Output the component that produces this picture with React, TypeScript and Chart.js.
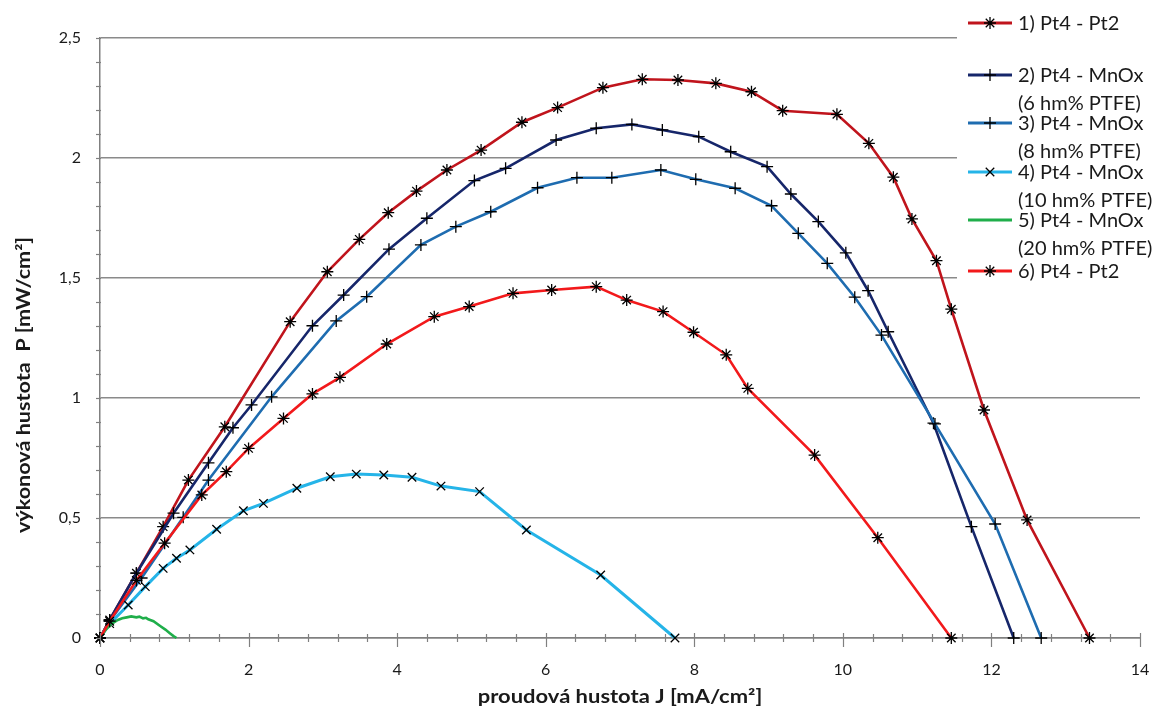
import React, { useEffect, useRef } from 'react';
import { Chart, registerables } from 'chart.js';

Chart.register(...registerables);

// 1) Pt4 - Pt2 (dark red)
const s1J = [0, 0.13, 0.49, 0.85, 1.19, 1.68, 2.56, 3.06, 3.49, 3.88, 4.26, 4.67, 5.13, 5.68, 6.16, 6.77, 7.3, 7.78, 8.29, 8.77, 9.19, 9.92, 10.35, 10.68, 10.93, 11.26, 11.46, 11.9, 12.48, 13.32];
const s1P = [0, 0.075, 0.27, 0.464, 0.658, 0.88, 1.318, 1.526, 1.661, 1.772, 1.862, 1.95, 2.033, 2.149, 2.21, 2.293, 2.328, 2.325, 2.311, 2.276, 2.197, 2.182, 2.061, 1.92, 1.746, 1.572, 1.37, 0.95, 0.492, 0];

// 2) Pt4 - MnOx (6 hm% PTFE) (navy)
const s2J = [0, 0.13, 0.49, 0.99, 1.46, 1.79, 2.04, 2.86, 3.28, 3.89, 4.4, 5.04, 5.46, 6.14, 6.68, 7.16, 7.57, 8.06, 8.49, 8.98, 9.3, 9.67, 10.04, 10.34, 10.61, 11.22, 11.73, 12.3];
const s2P = [0, 0.075, 0.27, 0.52, 0.73, 0.876, 0.971, 1.301, 1.429, 1.62, 1.749, 1.906, 1.957, 2.075, 2.124, 2.14, 2.117, 2.089, 2.026, 1.964, 1.85, 1.735, 1.605, 1.447, 1.276, 0.895, 0.464, 0];

// 3) Pt4 - MnOx (8 hm% PTFE) (mid blue)
const s3J = [0, 0.13, 0.56, 1.12, 1.46, 2.31, 3.18, 3.59, 4.32, 4.79, 5.26, 5.89, 6.42, 6.89, 7.55, 8.02, 8.55, 9.04, 9.4, 9.79, 10.16, 10.52, 11.24, 12.05, 12.67];
const s3P = [0, 0.07, 0.25, 0.503, 0.658, 1.005, 1.321, 1.422, 1.638, 1.714, 1.776, 1.876, 1.918, 1.918, 1.95, 1.911, 1.874, 1.801, 1.686, 1.561, 1.42, 1.262, 0.892, 0.475, 0];

// 4) Pt4 - MnOx (10 hm% PTFE) (light blue)
const s4J = [0, 0.13, 0.38, 0.61, 0.85, 1.03, 1.21, 1.57, 1.93, 2.2, 2.65, 3.1, 3.45, 3.82, 4.2, 4.59, 5.11, 5.74, 6.74, 7.74];
const s4P = [0, 0.06, 0.1375, 0.214, 0.29, 0.332, 0.367, 0.453, 0.53, 0.561, 0.624, 0.672, 0.683, 0.679, 0.67, 0.633, 0.61, 0.45, 0.2625, 0];

// 5) Pt4 - MnOx (20 hm% PTFE) (green, no markers)
const s5J = [0, 0.08, 0.16, 0.24, 0.3, 0.36, 0.42, 0.49, 0.53, 0.58, 0.62, 0.65, 0.72, 0.81, 0.88, 0.94, 0.99, 1.03];
const s5P = [0, 0.035, 0.06, 0.075, 0.082, 0.086, 0.09, 0.086, 0.089, 0.082, 0.084, 0.078, 0.07, 0.05, 0.035, 0.02, 0.008, 0];

// 6) Pt4 - Pt2 (bright red)
const s6J = [0, 0.13, 0.49, 0.87, 1.37, 1.7, 2.0, 2.47, 2.86, 3.23, 3.86, 4.5, 4.97, 5.56, 6.08, 6.68, 7.09, 7.58, 7.99, 8.43, 8.72, 9.62, 10.47, 11.46];
const s6P = [0, 0.07, 0.24, 0.395, 0.596, 0.693, 0.79, 0.915, 1.017, 1.086, 1.225, 1.339, 1.381, 1.436, 1.45, 1.464, 1.408, 1.36, 1.274, 1.18, 1.04, 0.762, 0.418, 0];

const seriesLabels = [
  ['1) Pt4 - Pt2'],
  ['2) Pt4 - MnOx', '(6 hm% PTFE)'],
  ['3) Pt4 - MnOx', '(8 hm% PTFE)'],
  ['4) Pt4 - MnOx', '(10 hm% PTFE)'],
  ['5) Pt4 - MnOx', '(20 hm% PTFE)'],
  ['6) Pt4 - Pt2'],
];
const seriesColors = ['#c0141c', '#16266a', '#1e6cb0', '#25b4e8', '#1fae4a', '#f2191b'];
const seriesMarkers = ['star', 'cross', 'cross', 'crossRot', 'none', 'star'];
const seriesJ = [s1J, s2J, s3J, s4J, s5J, s6J];
const seriesP = [s1P, s2P, s3P, s4P, s5P, s6P];

const xTitle = 'proudová hustota J [mA/cm²]';
const yTitle = 'výkonová hustota  P [mW/cm²]';
const xMin = 0, xMax = 14, xStep = 2, xMinor = 0.4;
const yMin = 0, yMax = 2.5, yStep = 0.5, yMinor = 0.1;

const FONT = 'Lato, "Liberation Sans", sans-serif';

function drawMarker(ctx: CanvasRenderingContext2D, style: string, x: number, y: number, r: number) {
  ctx.beginPath();
  if (style === 'cross' || style === 'star') {
    ctx.moveTo(x - r, y); ctx.lineTo(x + r, y);
    ctx.moveTo(x, y - r); ctx.lineTo(x, y + r);
  }
  if (style === 'crossRot' || style === 'star') {
    const d = r * Math.SQRT1_2;
    ctx.moveTo(x - d, y - d); ctx.lineTo(x + d, y + d);
    ctx.moveTo(x - d, y + d); ctx.lineTo(x + d, y - d);
  }
  ctx.stroke();
}

function stretchedText(ctx: CanvasRenderingContext2D, text: string, x: number, y: number, sx: number) {
  ctx.save();
  ctx.translate(x, y);
  ctx.scale(sx, 1);
  ctx.fillText(text, 0, 0);
  ctx.restore();
}

const decorPlugin = {
  id: 'decor',
  afterDraw(chart: any) {
    const ctx: CanvasRenderingContext2D = chart.ctx;
    const xs = chart.scales.x;
    const ys = chart.scales.y;
    const area = chart.chartArea;
    ctx.save();
    // minor / major ticks on x axis
    ctx.strokeStyle = '#808080';
    ctx.lineWidth = 1.2;
    const nx = Math.round((xMax - xMin) / xMinor);
    for (let i = 0; i <= nx; i++) {
      const v = xMin + i * xMinor;
      const px = Math.round(xs.getPixelForValue(v)) + 0.5;
      const major = i % 5 === 0;
      ctx.beginPath();
      ctx.moveTo(px, area.bottom - (major ? 5 : 4));
      ctx.lineTo(px, area.bottom + (major ? 9 : 4));
      ctx.stroke();
    }
    // minor ticks on y axis
    const ny = Math.round((yMax - yMin) / yMinor);
    for (let i = 0; i <= ny; i++) {
      const v = yMin + i * yMinor;
      const py = Math.round(ys.getPixelForValue(v)) + 0.5;
      ctx.beginPath();
      ctx.moveTo(area.left - 4, py);
      ctx.lineTo(area.left + 1, py);
      ctx.stroke();
    }

    // axis titles
    ctx.fillStyle = '#1a1a1a';
    ctx.font = `bold 18px ${FONT}`;
    ctx.textAlign = 'center';
    ctx.textBaseline = 'middle';
    stretchedText(ctx, xTitle, (area.left + area.right) / 2, 697, 1.22);
    ctx.save();
    ctx.translate(24, 385);
    ctx.rotate(-Math.PI / 2);
    stretchedText(ctx, yTitle, 0, 0, 1.2);
    ctx.restore();

    // legend box
    ctx.fillStyle = '#ffffff';
    ctx.fillRect(957, 0, 200, 292);
    const rowY = [23, 75, 123, 172, 220, 271];
    const lx0 = 968, lx1 = 1012, tx = 1018;
    ctx.font = `20px ${FONT}`;
    ctx.textAlign = 'left';
    for (let i = 0; i < seriesLabels.length; i++) {
      const y = rowY[i];
      ctx.strokeStyle = seriesColors[i];
      ctx.lineWidth = 3;
      ctx.beginPath();
      ctx.moveTo(lx0, y);
      ctx.lineTo(lx1, y);
      ctx.stroke();
      if (seriesMarkers[i] !== 'none') {
        ctx.strokeStyle = '#000';
        ctx.lineWidth = 1.3;
        drawMarker(ctx, seriesMarkers[i], (lx0 + lx1) / 2, y, 6);
      }
      ctx.fillStyle = '#1a1a1a';
      ctx.fillText(seriesLabels[i][0], tx, y + 1);
      if (seriesLabels[i][1]) ctx.fillText(seriesLabels[i][1], tx, y + 29);
    }
    ctx.restore();
  },
};

export default function App() {
  const ref = useRef<HTMLCanvasElement | null>(null);
  useEffect(() => {
    if (!ref.current) return;
    const datasets = seriesJ.map((J, i) => ({
      label: seriesLabels[i].join(' '),
      data: J.map((x, k) => ({ x, y: seriesP[i][k] })),
      borderColor: seriesColors[i],
      backgroundColor: seriesColors[i],
      borderWidth: i === 3 ? 3 : 2.6,
      pointStyle: seriesMarkers[i] === 'none' ? false : seriesMarkers[i],
      pointRadius: seriesMarkers[i] === 'none' ? 0 : 6,
      pointBorderColor: '#000',
      pointBorderWidth: 1.3,
      pointBackgroundColor: '#000',
      tension: 0,
      clip: false as any,
      order: 6 - i,
    }));
    const chart = new Chart(ref.current, {
      type: 'line',
      data: { datasets },
      options: {
        animation: false,
        responsive: false,
        layout: { padding: { left: 0, right: 17, top: 38, bottom: 0 } },
        plugins: { legend: { display: false }, tooltip: { enabled: false } },
        scales: {
          x: {
            type: 'linear',
            min: xMin,
            max: xMax,
            afterFit: (s: any) => { s.height = 79; },
            ticks: {
              stepSize: xStep,
              padding: 0,
              color: '#1a1a1a',
              font: { family: FONT, size: 16 },
              maxRotation: 0,
            },
            grid: { display: true, drawOnChartArea: false, drawTicks: true, tickLength: 22, tickColor: 'rgba(0,0,0,0)' },
            border: { display: true, color: '#808080', width: 1.5 },
          },
          y: {
            type: 'linear',
            min: yMin,
            max: yMax,
            afterFit: (s: any) => { s.width = 100; },
            ticks: {
              stepSize: yStep,
              padding: 19,
              color: '#1a1a1a',
              font: { family: FONT, size: 16 },
              callback: (v: any) => String(v).replace('.', ','),
            },
            grid: { color: '#8a8a8a', lineWidth: 1.5, drawTicks: false },
            border: { display: true, color: '#808080', width: 1.5 },
          },
        },
      },
      plugins: [decorPlugin],
    });
    return () => chart.destroy();
  }, []);
  return (
    <div style={{ position: 'fixed', left: 0, top: 0, width: 1157, height: 717, background: '#fff' }}>
      <canvas ref={ref} width={1157} height={717} />
    </div>
  );
}
